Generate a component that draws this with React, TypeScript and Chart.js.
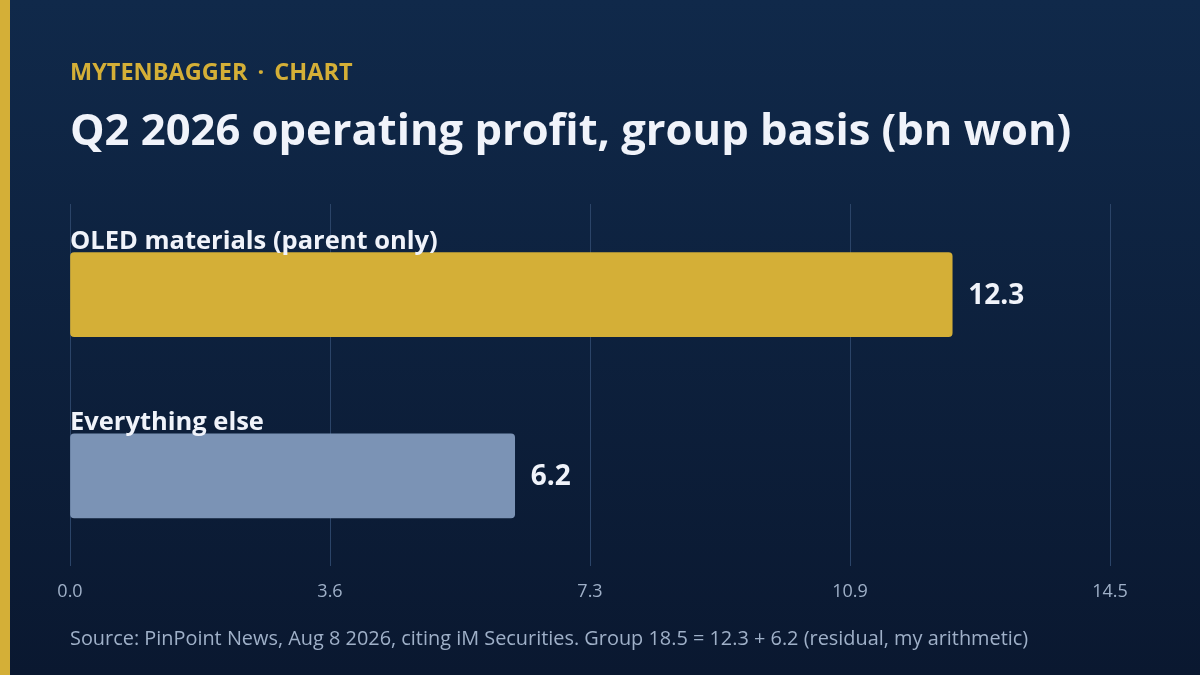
import { useEffect, useRef } from 'react'
import { Chart, registerables } from 'chart.js'

Chart.register(...registerables)

const CATEGORIES = ['OLED materials (parent only)', 'Everything else']
const PROFIT = [12.3, 6.2]
const TICK_LABELS = ['0.0', '3.6', '7.3', '10.9', '14.5']
const AXIS_MAX = 14.5

const GOLD = '#d4af37'
const SLATE = '#7b93b5'
const FONT = '"Open Sans", "Noto Sans", sans-serif'

const barLabels = {
  id: 'barLabels',
  afterDatasetsDraw(chart: Chart) {
    const { ctx } = chart
    const meta = chart.getDatasetMeta(0)
    ctx.save()
    meta.data.forEach((bar: any, i: number) => {
      const top = bar.y - bar.height / 2
      ctx.fillStyle = '#f0f3fa'
      ctx.font = `700 25.5px ${FONT}`
      ctx.textAlign = 'left'
      ctx.textBaseline = 'alphabetic'
      ctx.fillText(CATEGORIES[i], chart.chartArea.left, top - 4)

      ctx.font = `700 28px ${FONT}`
      ctx.textBaseline = 'middle'
      ctx.fillText(PROFIT[i].toFixed(1), bar.x + 16, bar.y + 1)
    })
    ctx.restore()
  },
}

function ProfitChart() {
  const ref = useRef<HTMLCanvasElement>(null)

  useEffect(() => {
    if (!ref.current) return

    const chart = new Chart(ref.current, {
      type: 'bar',
      data: {
        labels: CATEGORIES,
        datasets: [
          {
            data: PROFIT,
            backgroundColor: [GOLD, SLATE],
            borderRadius: 4,
            borderSkipped: false,
            barThickness: 84,
          },
        ],
      },
      options: {
        indexAxis: 'y',
        animation: false,
        responsive: true,
        maintainAspectRatio: false,
        layout: { padding: { left: 70, right: 90, top: 204, bottom: 57 } },
        plugins: {
          legend: { display: false },
          tooltip: { enabled: false },
        },
        scales: {
          x: {
            min: 0,
            max: AXIS_MAX,
            border: { display: false },
            grid: { color: '#2b4468', lineWidth: 1, drawTicks: false },
            afterBuildTicks: (scale: any) => {
              scale.ticks = TICK_LABELS.map((_, i) => ({ value: (AXIS_MAX * i) / 4 }))
            },
            ticks: {
              padding: 15,
              color: '#9fb0c8',
              font: { family: FONT, size: 18 },
              callback: (_v: any, i: number) => TICK_LABELS[i],
            },
          },
          y: { display: false },
        },
      },
      plugins: [barLabels],
    })

    return () => chart.destroy()
  }, [])

  return (
    <div style={{ position: 'absolute', left: 0, top: 0, width: 1200, height: 675 }}>
      <canvas ref={ref} role="img" aria-label="Q2 2026 operating profit by segment" />
    </div>
  )
}

export default function App() {
  return (
    <div
      style={{
        position: 'fixed',
        left: 0,
        top: 0,
        width: 1200,
        height: 675,
        overflow: 'hidden',
        background: 'linear-gradient(180deg, #10294a 0%, #0a1830 100%)',
        fontFamily: FONT,
      }}
    >
      <div style={{ position: 'absolute', left: 0, top: 0, width: 10, height: 675, background: GOLD }} />
      <ProfitChart />
      <div
        style={{
          position: 'absolute',
          left: 70,
          top: 55,
          color: GOLD,
          fontWeight: 700,
          fontSize: 23.5,
          lineHeight: '32px',
          wordSpacing: 4,
          whiteSpace: 'nowrap',
        }}
      >
        MYTENBAGGER · CHART
      </div>
      <div
        style={{
          position: 'absolute',
          left: 70,
          top: 101,
          color: '#f0f3fa',
          fontWeight: 700,
          fontSize: 43.5,
          lineHeight: '56px',
          whiteSpace: 'nowrap',
        }}
      >
        Q2 2026 operating profit, group basis (bn won)
      </div>
      <div
        style={{
          position: 'absolute',
          left: 70,
          top: 624,
          color: '#9fb0c8',
          fontSize: 19.9,
          lineHeight: '28px',
          whiteSpace: 'nowrap',
        }}
      >
        Source: PinPoint News, Aug 8 2026, citing iM Securities. Group 18.5 = 12.3 + 6.2 (residual, my arithmetic)
      </div>
    </div>
  )
}
